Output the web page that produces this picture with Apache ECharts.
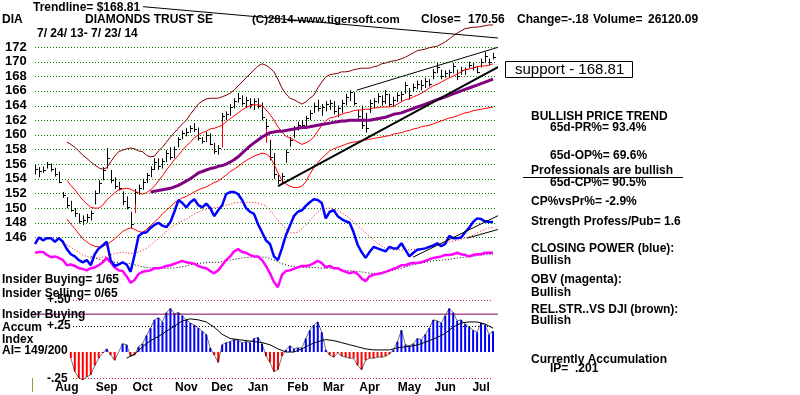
<!DOCTYPE html>
<html><head><meta charset="utf-8">
<script src="https://cdn.jsdelivr.net/npm/echarts@6.0.0/dist/echarts.min.js"></script>
<style>html,body{margin:0;padding:0;background:#fff}#c{width:800px;height:395px}</style>
</head><body><div id="c"></div>
<script>
// ---------- data (x = sample index, ~2 trading days per sample, 7/24/13 - 7/23/14) ----------
const monthNames = ['Aug','Sep','Oct','Nov','Dec','Jan','Feb','Mar','Apr','May','Jun','Jul'];
const monthIdx   = [8,18,27,38,47,56,66,75,84,94,103,112];
const priceTicks = [146,148,150,152,154,156,158,160,162,164,166,168,170,172];

const priceHigh = [
155.9,155.6,155.7,156.3,156.1,155.5,155.0,152.2,151.5,151.0,
150.0,149.3,149.0,149.2,149.7,152.4,153.8,155.6,158.2,155.2,
154.2,153.6,152.3,151.6,149.5,152.6,153.2,154.0,154.8,155.7,
156.8,156.8,156.8,157.9,158.3,158.4,159.7,160.6,160.9,161.3,
161.6,161.0,159.7,160.4,160.2,158.9,158.6,163.0,163.2,164.2,
165.0,165.7,165.4,165.2,165.0,165.0,165.0,164.4,162.2,159.3,
157.5,154.5,154.8,158.0,159.7,161.2,161.8,162.0,162.6,163.4,
164.4,164.8,164.2,164.6,164.8,164.6,164.0,164.8,165.6,166.1,
165.8,163.4,164.0,163.0,164.8,165.0,165.7,165.4,166.1,165.6,
165.2,165.8,165.9,167.2,166.4,167.0,167.4,167.5,167.8,167.6,
169.0,169.8,168.9,168.8,168.9,169.8,168.9,169.3,169.2,170.0,
169.8,169.4,170.4,171.3,170.4,171.2];
const priceLow = [
154.6,154.2,154.8,155.4,155.0,154.3,153.4,151.4,150.0,149.5,
148.8,147.9,147.7,148.0,148.3,150.5,152.0,153.8,155.4,153.4,
152.6,152.4,150.4,149.8,147.3,150.6,151.8,152.5,153.4,154.2,
155.2,155.2,155.4,156.3,156.6,156.8,158.3,159.4,159.8,160.3,
160.4,159.2,158.8,159.0,158.6,157.4,157.3,161.8,162.0,162.6,
163.6,164.4,164.0,163.8,163.6,163.4,163.6,162.0,160.8,156.5,
154.0,153.3,153.4,156.2,158.4,159.6,160.6,160.8,161.2,162.0,
163.0,163.2,162.6,163.2,163.4,162.8,162.4,163.0,164.0,164.6,
164.0,162.2,160.8,160.3,163.0,163.6,164.3,164.0,164.2,163.8,
163.8,164.5,164.6,165.6,164.8,166.0,166.2,166.1,166.4,166.6,
167.6,168.4,167.6,167.8,167.8,168.4,167.5,168.2,168.2,169.1,
168.8,168.4,169.2,169.8,169.5,170.3];
const priceClose = [
155.3,155.0,155.2,156.0,155.3,154.6,153.6,151.8,150.4,149.8,
149.3,148.3,148.4,148.8,149.3,152.0,153.4,155.2,156.8,153.8,
153.0,152.8,151.0,150.2,147.8,152.2,152.8,153.6,154.5,155.4,
156.3,155.8,156.4,157.5,157.0,158.0,159.4,160.2,160.4,161.0,
160.8,159.6,159.2,160.0,158.8,157.8,158.2,162.6,162.8,163.8,
164.6,165.0,164.4,164.8,164.2,164.6,164.0,162.4,161.2,157.0,
154.6,153.8,154.4,157.6,159.3,160.8,161.3,161.4,162.3,163.0,
164.0,163.6,163.8,164.2,164.4,163.2,163.6,164.3,165.2,165.8,
164.4,162.6,161.4,161.0,164.4,164.6,165.3,164.6,165.6,164.2,
164.8,165.4,165.6,166.8,165.4,166.6,167.0,166.8,167.4,167.0,
168.6,169.2,168.0,168.4,168.6,169.4,168.0,168.9,169.0,169.6,
169.2,168.6,170.0,170.8,169.9,170.56];

const upperBand = [null,null,null,null,null,null,null,null,
159.0,158.7,158.3,157.8,157.2,156.8,156.3,155.9,155.5,155.3,
155.5,156.3,157.1,157.7,157.9,158.1,158.2,158.1,157.8,157.7,
157.2,157.0,157.1,157.8,158.3,159.0,159.7,160.3,160.9,161.5,
162.0,162.8,163.5,164.2,164.6,164.9,165.0,165.0,165.0,165.2,
165.4,165.7,166.1,166.7,167.2,167.8,168.3,168.9,169.4,169.7,
169.5,169.1,168.6,167.6,166.4,165.6,165.0,164.8,164.5,164.2,
164.5,165.0,165.4,166.4,167.2,167.9,168.2,168.3,168.4,168.6,
168.6,168.7,168.9,169.0,169.1,169.1,169.1,169.3,169.4,169.7,
169.8,170.0,170.1,170.2,170.4,170.6,170.9,171.2,171.5,171.6,
171.7,171.9,172.0,172.1,172.4,172.7,173.1,173.5,173.9,174.2,
174.5,174.6,174.7,174.7,174.8,174.9,175.0,175.0];
const midBand = [null,null,null,null,null,null,null,null,
153.8,153.1,152.5,151.8,151.1,150.6,150.1,150.0,150.0,150.4,
151.1,151.6,152.1,152.5,152.6,152.7,152.6,152.3,152.1,151.9,
152.1,152.5,153.0,153.7,154.4,155.2,155.9,156.6,157.2,157.9,
158.5,159.0,159.6,160.0,160.3,160.5,160.8,160.9,161.1,161.3,
161.8,162.2,162.6,163.0,163.4,163.7,164.0,164.1,164.1,164.0,
163.4,162.8,162.0,161.1,160.4,159.8,159.6,159.3,159.0,158.7,
158.9,159.2,159.7,160.5,161.3,161.9,162.3,162.4,162.6,162.8,
163.0,163.1,163.3,163.4,163.4,163.5,163.5,163.7,163.7,163.8,
163.8,163.8,163.9,164.2,164.5,164.8,164.9,165.2,165.4,165.7,
166.0,166.4,166.7,166.9,167.2,167.5,167.8,168.0,168.3,168.6,
168.9,169.0,169.1,169.3,169.4,169.4,169.5,169.7];
const lowerBand = [null,null,null,null,null,null,null,null,
148.5,147.8,147.2,146.5,145.8,145.4,145.0,144.8,144.7,144.8,
145.0,145.4,145.8,146.3,146.8,147.1,147.3,147.1,146.8,146.7,
147.1,147.6,148.1,148.6,149.2,149.7,150.2,150.7,151.1,151.4,
151.6,151.9,152.2,152.5,152.7,152.9,153.2,153.5,153.7,154.1,
154.5,155.0,155.3,155.7,156.1,156.5,156.8,157.1,157.3,157.5,
157.4,157.0,156.0,154.8,153.8,153.3,153.0,152.8,152.8,153.0,
153.6,154.6,155.5,156.2,156.8,157.3,157.8,158.1,158.3,158.5,
158.7,158.9,159.0,159.1,159.2,159.3,159.4,159.5,159.6,159.7,
159.8,159.9,160.1,160.2,160.3,160.5,160.6,160.8,160.9,161.1,
161.2,161.3,161.5,161.7,161.9,162.1,162.3,162.4,162.6,162.8,
163.0,163.1,163.3,163.4,163.5,163.6,163.7,163.8];
const longMA = [null,null,null,null,null,null,null,null,null,null,
null,null,null,null,null,null,null,null,null,null,
null,null,null,null,null,null,null,null,null,
152.2,152.3,152.4,152.5,152.6,152.7,152.9,153.1,153.4,153.7,
154.0,154.4,154.8,155.0,155.2,155.4,155.5,155.7,155.8,156.0,
156.3,156.6,157.0,157.5,158.0,158.5,158.9,159.3,159.7,160.0,
160.3,160.4,160.5,160.5,160.6,160.7,160.8,160.9,161.0,161.0,
161.1,161.2,161.3,161.4,161.5,161.6,161.7,161.8,161.9,161.9,
162.0,162.0,162.0,162.0,162.0,162.0,162.1,162.2,162.3,162.4,
162.6,162.8,162.9,163.0,163.2,163.4,163.6,163.8,164.0,164.2,
164.4,164.6,164.8,165.0,165.2,165.4,165.6,165.8,166.0,166.2,
166.4,166.6,166.8,167.0,167.2,167.4,167.6];

// closing power (blue) and OBV (magenta), plotted in the price panel's units
const closingPower = [
145.1,146.0,145.6,145.9,145.9,145.4,145.9,145.4,144.4,143.7,
143.4,142.9,142.6,142.9,142.2,143.7,144.5,144.9,145.4,142.9,
142.1,142.3,142.6,142.3,141.3,143.6,146.2,146.6,146.7,147.3,
147.7,148.0,147.6,147.4,148.1,149.5,151.1,150.7,150.1,150.8,
151.2,150.4,150.1,150.6,150.0,148.9,149.7,150.4,151.9,152.2,
152.2,151.9,151.1,150.0,149.5,149.2,147.8,146.7,145.6,145.1,
143.4,142.9,144.5,146.3,147.6,148.9,149.5,149.7,150.3,150.8,
151.2,151.1,150.7,148.6,149.5,149.7,148.9,148.5,148.2,148.0,
146.7,145.0,144.0,143.2,144.0,144.7,144.5,144.3,144.1,144.7,
144.5,144.5,145.2,144.3,143.4,143.9,144.3,144.4,144.5,144.7,
144.9,145.2,144.8,145.1,146.2,145.9,145.9,146.0,146.7,147.3,
148.1,148.6,148.5,148.2,148.1,148.1];
const cpMaIdx = [8,10,12,14,16,18,20,22,24,26,28,30,32,34,36,38,40,42,44,46,48,50,52,54,56,58,60,62,64,66,68,70,72,74,76,78,80,82,84,86,88,90,92,94,96,98,100,102,104,106,108,110,112,114,115];
const cpMaVal = [145.0,144.3,143.6,143.2,143.2,143.4,143.8,144.0,143.8,144.0,
144.5,145.4,146.3,147.3,148.0,148.5,149.2,149.7,150.0,150.1,
150.4,150.7,150.8,150.8,150.7,150.3,149.0,147.7,146.6,146.7,
147.7,148.9,149.9,150.0,149.7,149.0,148.1,147.1,146.2,145.2,
144.5,144.3,144.3,144.3,144.4,144.5,144.8,145.1,145.4,145.6,
145.9,146.3,146.9,147.3,147.4];
const obv = [
143.9,144.0,144.0,143.6,143.3,143.4,143.2,142.9,142.2,142.3,
142.1,141.8,141.7,141.5,141.8,141.9,142.2,142.6,143.2,142.6,
141.9,141.5,141.4,140.7,139.8,140.2,141.0,141.3,141.4,141.5,
141.8,141.8,141.9,142.1,142.2,142.4,142.6,142.8,142.6,142.5,
142.4,142.1,141.9,141.8,141.4,141.1,141.5,142.2,142.9,143.4,
144.1,144.4,144.0,143.9,143.6,143.4,143.4,142.9,142.1,141.1,
139.9,139.2,140.9,141.4,141.5,141.7,141.9,142.1,142.1,142.2,
142.5,142.8,142.5,141.9,142.1,141.8,141.8,141.5,141.3,141.1,
141.3,141.0,140.4,140.0,140.7,140.9,141.0,141.1,141.3,141.5,
141.7,141.9,142.2,142.2,142.4,142.5,142.5,142.6,142.8,143.0,
143.2,143.3,143.4,143.6,143.6,143.7,143.9,143.7,143.6,143.4,
143.6,143.7,143.7,143.9,143.9,143.9];
const obvMaIdx = [14,16,18,20,22,24,26,28,30,32,34,36,38,40,42,44,46,48,50,52,54,56,58,60,62,64,66,68,70,72,74,76,78,80,82,84,86,88,90,92,94,96,98,100,102,104,106,108,110,112,114,115];
const obvMaVal = [143.4,143.0,142.8,142.6,142.5,142.4,142.1,141.9,141.8,141.8,
141.8,141.9,142.1,142.4,142.5,142.6,142.6,142.8,143.0,143.2,
143.3,143.3,143.3,142.9,142.4,142.1,141.9,141.9,141.9,141.8,
141.8,141.7,141.5,141.4,141.3,141.1,141.1,141.3,141.5,141.8,
142.1,142.4,142.6,142.8,142.9,143.0,143.2,143.3,143.4,143.6,
143.7,143.7];

// accumulation index
const accumIndex = [null,null,null,null,null,null,null,null,null,-0.06,
-0.19,-0.25,-0.27,-0.24,-0.22,-0.13,-0.06,-0.01,0.03,-0.03,
-0.08,0.00,0.08,0.07,-0.04,-0.03,0.05,0.08,0.16,0.23,
0.31,0.33,0.29,0.38,0.42,0.37,0.38,0.35,0.31,0.28,
0.26,0.23,0.20,0.17,0.04,-0.03,-0.10,0.07,0.09,0.10,
0.12,0.11,0.09,0.10,0.09,0.13,0.14,0.08,-0.04,-0.10,
-0.19,-0.17,-0.04,0.02,0.06,0.03,0.04,0.04,0.13,0.21,
0.26,0.29,0.19,0.02,-0.03,-0.05,-0.01,-0.04,-0.05,-0.06,
-0.06,-0.13,-0.17,-0.08,-0.06,-0.06,-0.05,-0.05,-0.04,-0.02,
0.02,0.10,0.21,0.07,0.06,0.08,0.13,0.12,0.17,0.23,
0.31,0.30,0.28,0.35,0.42,0.38,0.30,0.31,0.27,0.24,
0.21,0.19,0.28,0.26,0.17,0.20];
const aiMaIdx = [23,25,27,29,31,33,35,37,39,41,43,45,47,49,51,53,55,57,59,61,63,65,67,69,71,73,75,77,79,81,83,85,87,89,91,93,95,97,99,101,103,105,107,109,111,113,115];
const aiMaVal = [-0.06,-0.02,0.05,0.11,0.15,0.20,0.25,0.30,0.32,0.31,
0.29,0.24,0.17,0.13,0.12,0.11,0.10,0.09,0.07,0.03,
0.00,0.00,0.03,0.07,0.10,0.12,0.11,0.09,0.07,0.05,
0.03,0.02,0.02,0.02,0.04,0.05,0.06,0.08,0.11,0.14,
0.18,0.24,0.28,0.29,0.29,0.27,0.23];

// signal marks [index, low, high] and trend lines [[index, value], ...]
const signals = [[25,149.3,150.7],[47,158.3,161.8],[58,158.9,161.1]];
const supportLine = [[61,153.0],[129.3,173.1]];
const channelLine = [[80.8,166.1],[123.8,173.2]];
const pointerLine = [[27.1,177.5],[116.7,173.2],[116.7,169.5]];
const cpTrend1 = [[94.9,143.3],[124.3,151.1]];
const cpTrend2 = [[108.5,145.9],[122.3,148.0]];
const insiderLevel = [[-8.8,0.365],[117.5,0.365]];
// AI reference levels [fromIndex, toIndex, level]
const aiLevels = [[9.5,115,0.5],[9.5,115,0.25],[9.5,115,-0.25]];
const priceGridSpan = [0,116];

// ---------- chart ----------
const FONT = '"Liberation Sans", Arial, sans-serif';
const XY = arr => arr.map((v,i)=>[i, v==null ? '-' : v]);
const pairs = (idx, vals) => idx.map((k,j)=>[k, vals[j]]);
const line = (data, color, width, extra) => Object.assign({
  type:'line', data, symbol:'none', showSymbol:false, silent:true, connectNulls:false,
  lineStyle:{color, width}, xAxisIndex:0, yAxisIndex:0
}, extra||{});
// dotted horizontal rules snapped to the pixel grid
const hRules = (data, colorFn, axis) => ({
  type:'custom', xAxisIndex:axis, yAxisIndex:axis, silent:true, clip:false, data,
  encode:{x:[0,1], y:2},
  renderItem(params, api){
    const a = api.coord([api.value(0), api.value(2)]);
    const b = api.coord([api.value(1), api.value(2)]);
    const y = Math.round(a[1]) + 0.5;
    return {type:'line', shape:{x1:Math.round(a[0]), y1:y, x2:Math.round(b[0]), y2:y},
            style:{stroke:colorFn(api.value(2)), lineWidth:1, lineDash:[1,2]}};
  }
});

const chart = echarts.init(document.getElementById('c'));

const series = [
  hRules(priceTicks.map(p=>[priceGridSpan[0], priceGridSpan[1], p]), () => '#008000', 0),
  line(XY(upperBand), '#800000', 1),
  line(XY(midBand), '#ff0000', 1),
  line(XY(lowerBand), '#ff0000', 1),
  {type:'custom', xAxisIndex:0, yAxisIndex:0, silent:true, data: signals,
   renderItem(params, api){
     const a = api.coord([api.value(0), api.value(1)]);
     const b = api.coord([api.value(0), api.value(2)]);
     const x = Math.round(a[0])+0.5;
     return {type:'line', shape:{x1:x,y1:a[1],x2:x,y2:b[1]}, style:{stroke:'#ff0000', lineWidth:1}};
   }},
  {type:'custom', xAxisIndex:0, yAxisIndex:0, silent:true,
   data: priceClose.map((c,i)=>[i, priceHigh[i], priceLow[i], c]),
   encode:{x:0, y:[1,2,3]},
   renderItem(params, api){
     const i = api.value(0);
     const h = api.coord([i, api.value(1)]);
     const l = api.coord([i, api.value(2)]);
     const c = api.coord([i, api.value(3)]);
     const x = Math.round(h[0])+0.5;
     const yc = Math.round(c[1])+0.5;
     return {type:'group', children:[
       {type:'line', shape:{x1:x,y1:h[1],x2:x,y2:l[1]}, style:{stroke:'#000', lineWidth:1}},
       {type:'line', shape:{x1:x,y1:yc,x2:x+2.5,y2:yc}, style:{stroke:'#000', lineWidth:1}}
     ]};
   }},
  line(XY(longMA), '#800080', 3),
  line(pairs(cpMaIdx, cpMaVal), '#ff0000', 1, {lineStyle:{color:'#ff0000', width:1, type:[1,2]}}),
  line(pairs(obvMaIdx, obvMaVal), '#000', 1, {lineStyle:{color:'#000', width:1, type:[1,2]}}),
  line(XY(obv), '#ff00ff', 2.5),
  line(XY(closingPower), '#0000ff', 2.5),
  line(supportLine, '#000', 2, {clip:false, z:5}),
  line(channelLine, '#000', 1, {clip:false, z:5}),
  line(pointerLine, '#000', 1, {clip:false, z:5}),
  line(cpTrend1, '#000', 1, {clip:false, z:5}),
  line(cpTrend2, '#000', 1, {clip:false, z:5}),
  // accumulation index panel
  line(insiderLevel, '#80005a', 1, {xAxisIndex:1, yAxisIndex:1, clip:false}),
  hRules(aiLevels, v => (v === 0.25 ? '#000000' : '#d02040'), 1),
  {type:'bar', xAxisIndex:1, yAxisIndex:1, silent:true, barWidth:2,
   data: XY(accumIndex),
   itemStyle:{color: p => (p.value[1] >= 0 ? '#0000ff' : '#ff0000')}},
  line(XY(accumIndex), '#000', 1, {xAxisIndex:1, yAxisIndex:1, lineStyle:{color:'#000', width:1, opacity:0.55}}),
  line(pairs(aiMaIdx, aiMaVal), '#000', 1, {xAxisIndex:1, yAxisIndex:1})
];

const T = (text, x, y, size, weight) => ({
  type:'text', x, y, z:100, silent:true,
  style:{text, font:(weight||'bold')+' '+(size||12)+'px '+FONT, fill:'#000',
         verticalAlign:'middle', textVerticalAlign:'middle'}
});

const graphic = [
  T('Trendline= $168.81', 33, 8),
  T('DIA', 2, 20),
  T('DIAMONDS TRUST SE', 85, 20),
  T('(C)2814-www.tigersoft.com', 252, 20, 11.5),
  T('Close=', 421, 20), T('170.56', 468, 20), T('Change=-.18', 517, 20),
  T('Volume=', 593, 20), T('26120.09', 648, 20),
  T('7/ 24/ 13- 7/ 23/ 14', 37, 34),
  {type:'rect', z:99, silent:true, shape:{x:505.5, y:61.5, width:127, height:16}, style:{fill:'#fff', stroke:'#000', lineWidth:1}},
  T('support - 168.81', 515, 69.5, 15, 'normal'),
  T('BULLISH PRICE TREND', 531, 117),
  T('65d-PR%= 93.4%', 550, 127.5),
  T('65d-OP%= 69.6%', 550, 156),
  T('Professionals are bullish', 531, 171),
  {type:'line', z:100, silent:true, shape:{x1:523, y1:177.5, x2:683, y2:177.5}, style:{stroke:'#000', lineWidth:1}},
  T('65d-CP%= 90.5%', 550, 183),
  T('CP%vsPr%= -2.9%', 531, 202),
  T('Strength Profess/Pub= 1.6', 531, 221.5),
  T('CLOSING POWER (blue):', 531, 249),
  T('Bullish', 531, 261),
  T('OBV (magenta):', 531, 280),
  T('Bullish', 531, 292.5),
  T('REL.STR..VS DJI (brown):', 531, 310),
  T('Bullish', 531, 321),
  T('Currently Accumulation', 531, 360),
  T('IP=  .201', 550, 368.5),
  T('+.50', 47, 300),
  T('Insider Buying= 1/65', 2, 280),
  T('Insider Selling= 0/65', 2, 294),
  T('Insider Buying', 2, 315),
  T('Accum', 2, 327.5),
  T('+.25', 47, 326),
  T('Index', 2, 339.5),
  T('AI= 149/200', 2, 351),
  T('-.25', 47, 379),
  {type:'line', z:100, silent:true, shape:{x1:32.5, y1:378, x2:32.5, y2:392}, style:{stroke:'#a09a30', lineWidth:1}}
];

chart.setOption({
  animation:false,
  backgroundColor:'#ffffff',
  grid:[
    {left:35, width:462, top:3, height:293, containLabel:false, outerBoundsMode:'none'},
    {left:35, width:462, top:295, height:86, containLabel:false, outerBoundsMode:'none'}
  ],
  xAxis:[
    {type:'value', gridIndex:0, min:0, max:116, show:false},
    {type:'value', gridIndex:1, min:0, max:116, interval:1,
     axisLine:{show:false}, axisTick:{show:false}, splitLine:{show:false},
     axisLabel:{margin:1, color:'#000', fontWeight:'bold', fontSize:12, fontFamily:FONT, hideOverlap:false,
       formatter: v => { const k = monthIdx.indexOf(v); return k >= 0 ? monthNames[k] : ''; }}}
  ],
  yAxis:[
    {type:'value', gridIndex:0, min:138, max:178, interval:2,
     axisLine:{show:false}, axisTick:{show:false}, splitLine:{show:false},
     axisLabel:{align:'left', margin:30, color:'#000', fontWeight:'bold', fontSize:13, fontFamily:FONT,
       formatter: v => (priceTicks.indexOf(v) >= 0 ? String(v) : '')}},
    {type:'value', gridIndex:1, min:-0.28, max:0.55, show:false}
  ],
  series,
  graphic
});
</script>
</body></html>
